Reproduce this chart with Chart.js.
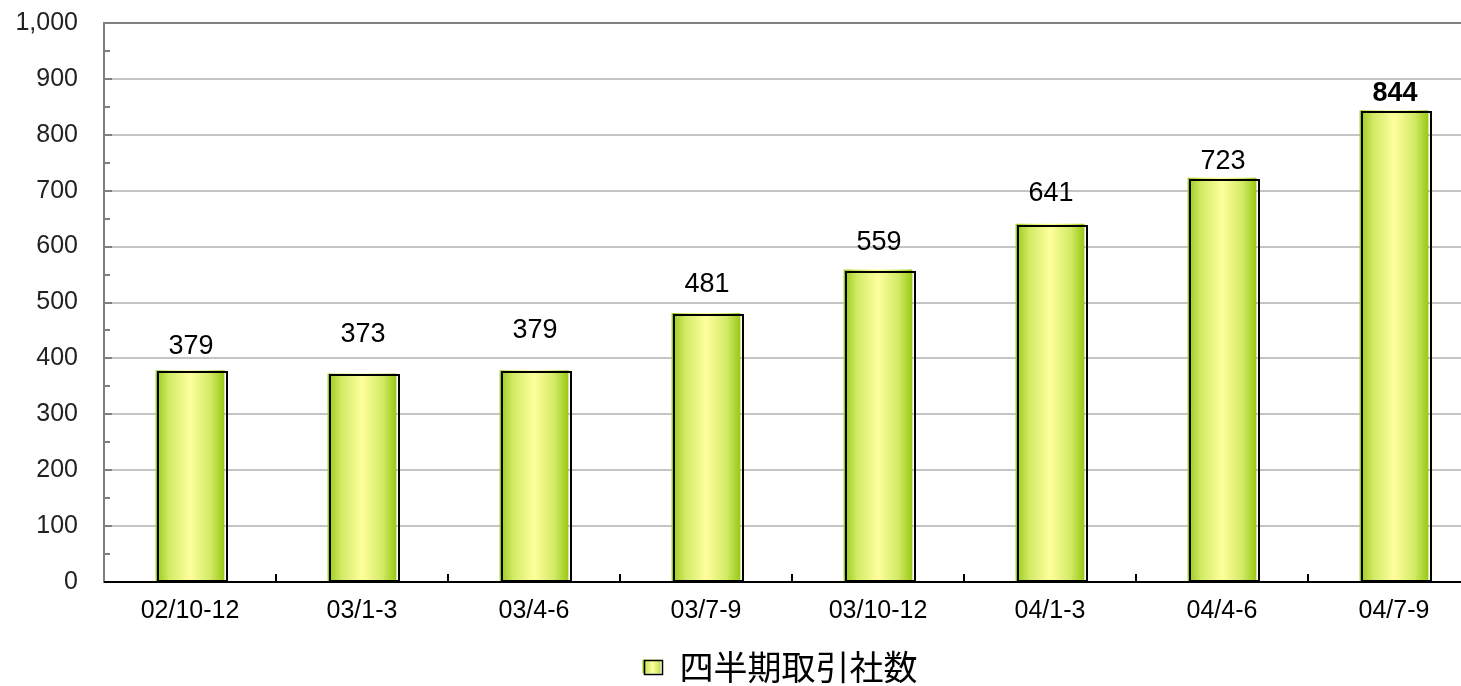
<!DOCTYPE html>
<html>
<head>
<meta charset="utf-8">
<script src="https://cdn.jsdelivr.net/npm/chart.js@4"></script>
<style>
  body { margin: 0; overflow: hidden; background: #fff; }
  #wrap { width: 1480px; height: 686px; }
</style>
</head>
<body>
<div id="wrap"><canvas id="chart"></canvas></div>
<script>
var quarters = ["02/10-12", "03/1-3", "03/4-6", "03/7-9", "03/10-12", "04/1-3", "04/4-6", "04/7-9"];
var companies = [379, 373, 379, 481, 559, 641, 723, 844];
var seriesName = "四半期取引社数";
var yTicks = [0, 100, 200, 300, 400, 500, 600, 700, 800, 900, 1000];
// how far (px) each value label sits above its bar
var labelLift = [24, 39, 40, 29, 27, 30, 16, 17];

function barGradient(ctx, x0, x1) {
  var g = ctx.createLinearGradient(x0, 0, x1, 0);
  g.addColorStop(0, '#98c814');
  g.addColorStop(0.2, '#d2ea66');
  g.addColorStop(0.5, '#ffff9c');
  g.addColorStop(0.8, '#d2ea66');
  g.addColorStop(1, '#98c814');
  return g;
}

var axisExtras = {
  id: 'axisExtras',
  afterLayout: function(chart) {
    // legend sits a bit right of the canvas centre
    if (chart.legend) { chart.legend.left += 40; chart.legend.right += 40; }
  },
  afterDatasetsDraw: function(chart) {
    var c = chart.ctx, x = chart.scales.x, y = chart.scales.y;
    var left = chart.chartArea.left, bottom = chart.chartArea.bottom;
    var meta = chart.getDatasetMeta(0);
    c.save();
    // bar outlines, slightly offset from the fill
    c.strokeStyle = '#000';
    c.lineWidth = 2;
    meta.data.forEach(function(el) {
      var w = el.width;
      c.strokeRect(Math.round(el.x - w / 2 + 2), Math.round(el.y + 2), Math.round(w), Math.round(el.base - el.y - 2));
    });
    c.strokeStyle = '#808080';
    for (var i = 0; i < yTicks.length - 1; i++) {
      var ym = Math.round(y.getPixelForValue(yTicks[i] + 50));
      c.beginPath(); c.moveTo(left, ym); c.lineTo(left + 6, ym); c.stroke();
      var yM = Math.round(y.getPixelForValue(yTicks[i + 1]));
      c.beginPath(); c.moveTo(left, yM); c.lineTo(left + 8, yM); c.stroke();
    }
    c.strokeStyle = '#000';
    c.beginPath(); c.moveTo(left, bottom); c.lineTo(chart.chartArea.right, bottom); c.stroke();
    for (var k = 1; k < quarters.length; k++) {
      var xb = Math.round((x.getPixelForValue(k - 1) + x.getPixelForValue(k)) / 2);
      c.beginPath(); c.moveTo(xb, bottom); c.lineTo(xb, bottom - 8); c.stroke();
    }
    // value labels
    c.fillStyle = '#000';
    c.textAlign = 'center';
    c.textBaseline = 'middle';
    meta.data.forEach(function(el, i) {
      var last = i === companies.length - 1;
      c.font = (last ? 'bold ' : '') + '27px "Liberation Sans", Arial, sans-serif';
      c.fillText(String(companies[i]), el.x + 1, el.y - labelLift[i]);
    });
    c.restore();
  },
  afterDraw: function(chart) {
    var lg = chart.legend;
    if (!lg || !lg.legendHitBoxes || !lg.legendHitBoxes.length) return;
    var hb = lg.legendHitBoxes[0];
    var c = chart.ctx;
    var bw = 20, bh = 15;
    var bx = hb.left, by = hb.top + (hb.height - bh) / 2;
    c.save();
    c.fillStyle = '#fff';
    c.fillRect(bx - 2, hb.top, bw + 6, hb.height);
    c.fillStyle = barGradient(c, bx, bx + bw);
    c.fillRect(bx, by, bw - 2, bh - 1);
    c.strokeStyle = '#000';
    c.lineWidth = 1.5;
    c.strokeRect(bx + 2, by + 1, bw - 2, bh - 1);
    c.restore();
  }
};

new Chart(document.getElementById('chart'), {
  type: 'bar',
  data: {
    labels: quarters,
    datasets: [{
      label: seriesName,
      data: companies,
      backgroundColor: function(ctx) {
        var x = ctx.chart.scales.x;
        if (!x || ctx.type !== 'data') return '#d2ea66';
        var cx = x.getPixelForValue(ctx.dataIndex);
        var w = x.width / quarters.length * 0.4;
        if (!isFinite(cx) || !isFinite(w) || w <= 0) return '#d2ea66';
        return barGradient(ctx.chart.ctx, cx - w / 2, cx + w / 2);
      },
      borderWidth: 0,
      barPercentage: 0.4,
      categoryPercentage: 1.0
    }]
  },
  plugins: [axisExtras],
  options: {
    responsive: true,
    maintainAspectRatio: false,
    animation: false,
    layout: { padding: { left: 0, right: 0, top: 23, bottom: 0 } },
    scales: {
      x: {
        grid: { display: false, drawTicks: false },
        border: { display: true, color: '#000', width: 2 },
        ticks: { color: '#000', padding: 14, font: { size: 25, family: '"Liberation Sans", Arial, sans-serif' } },
        afterFit: function(s) { s.height = 54; s.paddingLeft = 0; s.paddingRight = 0; }
      },
      y: {
        min: 0,
        max: 1000,
        afterBuildTicks: function(s) { s.ticks = yTicks.map(function(v) { return { value: v }; }); },
        grid: {
          drawTicks: false,
          lineWidth: 2,
          color: function(ctx) { return ctx.tick && ctx.tick.value === 1000 ? '#808080' : '#c4c4c4'; }
        },
        border: { display: true, color: '#808080', width: 2 },
        ticks: {
          color: '#222',
          padding: 26,
          font: { size: 25, family: '"Liberation Sans", Arial, sans-serif' },
          callback: function(v) { return v.toLocaleString('en-US'); }
        },
        afterFit: function(s) { s.width = 104; s.paddingTop = 0; s.paddingBottom = 0; }
      }
    },
    plugins: {
      tooltip: { enabled: false },
      legend: {
        position: 'bottom',
        maxHeight: 50,
        labels: {
          color: '#000',
          boxWidth: 20,
          boxHeight: 15,
          padding: 14,
          font: { size: 34, family: '"Noto Sans CJK JP", sans-serif' }
        }
      }
    }
  }
});
</script>
</body>
</html>
